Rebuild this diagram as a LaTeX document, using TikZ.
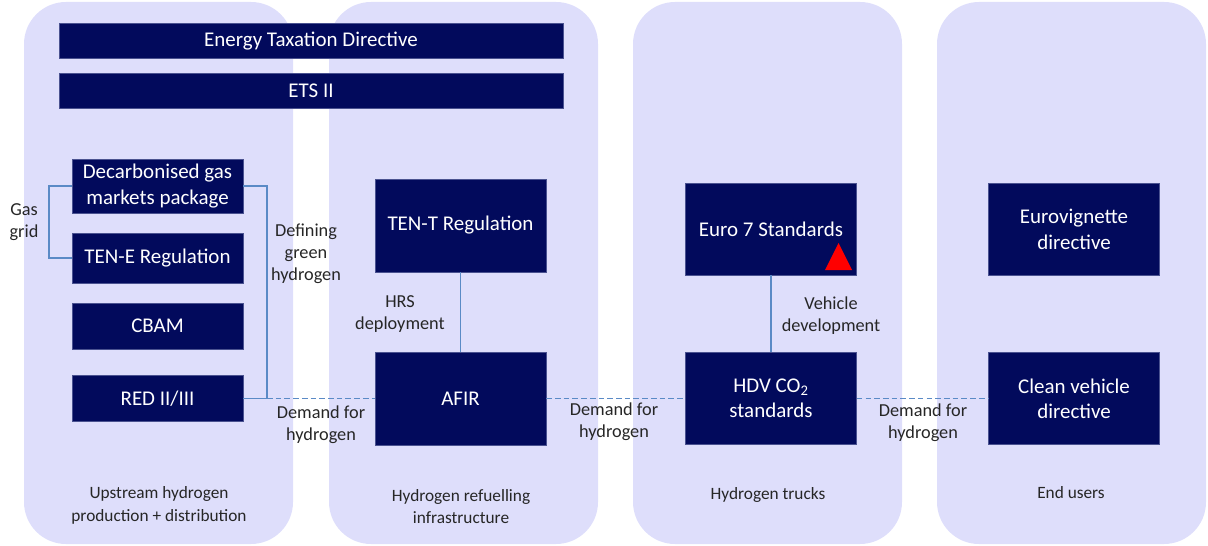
\documentclass[tikz,border=0pt]{standalone}
\usepackage{fontspec}
\setmainfont{Carlito}
\usetikzlibrary{positioning}
\definecolor{lane}{HTML}{DEDEFB}
\definecolor{navy}{HTML}{020A5C}
\definecolor{boxedge}{HTML}{4A5290}
\definecolor{linkblue}{HTML}{5A8AC6}
\definecolor{labelgray}{HTML}{262626}
\begin{document}
\begin{tikzpicture}[x=0.025cm,y=-0.025cm,
  lanebox/.style={fill=lane, rounded corners=1.05cm},
  policy/.style={fill=navy, draw=boxedge, line width=0.4pt, text=white, align=center,
    minimum width=4.275cm, inner sep=2pt,
    font=\fontsize{14.9}{18}\selectfont},
  widebar/.style={policy, minimum width=12.6cm, minimum height=0.875cm},
  link/.style={draw=linkblue, line width=1.2pt},
  demand/.style={link, dash pattern=on 4pt off 2.2pt},
  linklabel/.style={text=labelgray, align=center, font=\fontsize{13}{15.6}\selectfont},
  lanelabel/.style={text=labelgray, align=center, font=\fontsize{12.3}{16.2}\selectfont}]
\useasboundingbox (0,0) rectangle (1208,545);
\fill[lanebox] (24,2) rectangle (293,544);
\fill[lanebox] (329,2) rectangle (598,544);
\fill[lanebox] (633,2) rectangle (902,544);
\fill[lanebox] (937,2) rectangle (1206,544);

\node[widebar] (etd) at (311,41) {Energy Taxation Directive};
\node[widebar] (ets) at (311,91) {ETS II};

\node[policy, minimum height=1.35cm] (decarb) at (157.5,186) {Decarbonised gas\\markets package};
\node[policy, minimum height=1.25cm] (tene) at (157.5,258) {TEN-E Regulation};
\node[policy, minimum height=1.15cm] (cbam) at (157.5,326) {CBAM};
\node[policy, minimum height=1.15cm] (red) at (157.5,398.5) {RED II/III};

\node[policy, minimum height=2.325cm] (tent) at (460.5,225.5) {TEN-T Regulation};
\node[policy, minimum height=2.325cm] (afir) at (460.5,398.5) {AFIR};

\node[policy, minimum height=2.3cm] (euro) at (771,229) {Euro 7 Standards};
\node[policy, minimum height=2.3cm] (hdv) at (771,398.5) {HDV CO\textsubscript{2}\\standards};

\node[policy, minimum height=2.3cm] (euv) at (1074,229.5) {Eurovignette\\directive};
\node[policy, minimum height=2.3cm] (cvd) at (1074,398.5) {Clean vehicle\\directive};

\fill[red] (825,270) -- (852,270) -- (838.5,243) -- cycle;

\coordinate (junction) at (267,398.5);
\draw[link] (decarb.west) -- ++(-23,0) |- (tene.west);
\draw[link] (decarb.east) -| (junction) -- (red.east);
\draw[demand] (junction) -- (afir.west);
\draw[link] (tent) -- (afir);
\draw[demand] (afir.east) -- (hdv.west);
\draw[link] (euro) -- (hdv);
\draw[demand] (hdv.east) -- (cvd.west);

\node[linklabel] (gasgrid) at (24,222) {Gas\\grid};
\node[linklabel] (defining) at (306,254) {Defining\\green\\hydrogen};
\node[linklabel] (demanda) at (321,425) {Demand for\\hydrogen};
\node[linklabel] (hrs) at (400,314) {HRS\\deployment};
\node[linklabel] (demandb) at (614,422) {Demand for\\hydrogen};
\node[linklabel] (vehicle) at (831,316) {Vehicle\\development};
\node[linklabel] (demandc) at (923,423) {Demand for\\hydrogen};

\node[lanelabel] (upstream) at (159,505) {Upstream hydrogen\\production + distribution};
\node[lanelabel] (refuel) at (461,506.5) {Hydrogen refuelling\\infrastructure};
\node[lanelabel] (trucks) at (768,495) {Hydrogen trucks};
\node[lanelabel] (users) at (1071,493) {End users};
\end{tikzpicture}
\end{document}
